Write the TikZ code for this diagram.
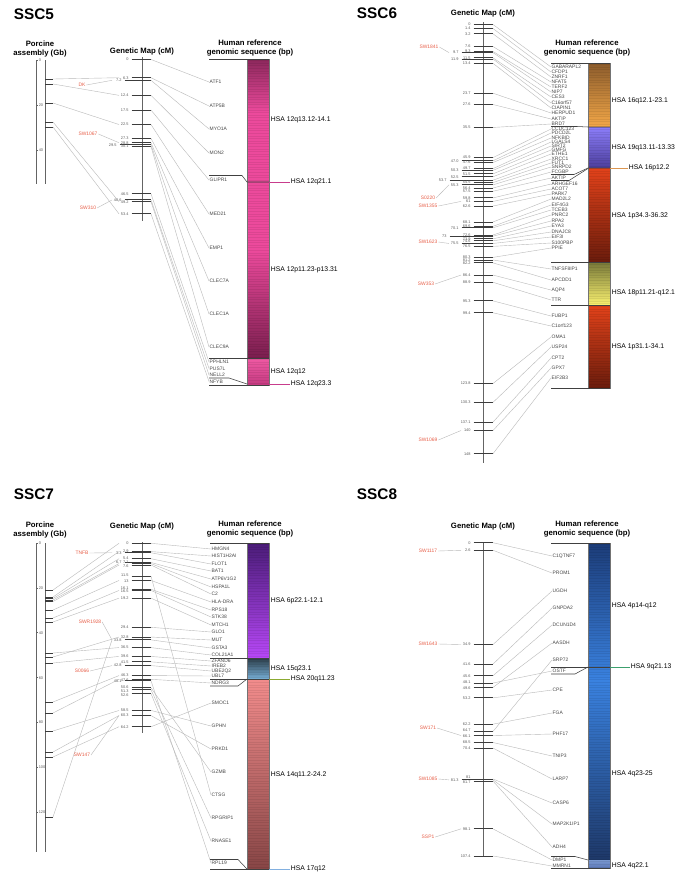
\documentclass[tikz,border=0pt]{standalone}
\usepackage{fontspec}
\setmainfont{Liberation Sans}
\definecolor{textgray}{RGB}{70,70,70}
\definecolor{labgray}{RGB}{90,90,90}
\definecolor{linkgray}{RGB}{185,185,185}
\definecolor{tickgray}{RGB}{60,60,60}
\definecolor{axisgray}{RGB}{100,100,100}
\definecolor{mkred}{RGB}{232,96,74}
\definecolor{c5a}{RGB}{140,40,92}
\definecolor{c5b}{RGB}{236,74,156}
\definecolor{c5c}{RGB}{122,30,78}
\definecolor{c5d}{RGB}{240,90,164}
\definecolor{c5e}{RGB}{196,58,128}
\definecolor{c5line}{RGB}{200,60,140}
\definecolor{c6a}{RGB}{140,92,44}
\definecolor{c6b}{RGB}{244,168,72}
\definecolor{c6c}{RGB}{140,126,250}
\definecolor{c6d}{RGB}{76,62,156}
\definecolor{c6e}{RGB}{226,66,26}
\definecolor{c6f}{RGB}{106,28,12}
\definecolor{c6g}{RGB}{120,120,56}
\definecolor{c6h}{RGB}{250,242,112}
\definecolor{c6line}{RGB}{220,150,80}
\definecolor{c7a}{RGB}{74,28,120}
\definecolor{c7b}{RGB}{184,72,248}
\definecolor{c7c}{RGB}{44,62,74}
\definecolor{c7d}{RGB}{120,176,216}
\definecolor{c7e}{RGB}{242,140,140}
\definecolor{c7f}{RGB}{136,70,70}
\definecolor{c7lineA}{RGB}{140,170,50}
\definecolor{c7lineB}{RGB}{130,176,224}
\definecolor{c8a}{RGB}{28,60,120}
\definecolor{c8b}{RGB}{58,130,224}
\definecolor{c8c}{RGB}{30,56,104}
\definecolor{c8d}{RGB}{122,152,208}
\definecolor{c8e}{RGB}{92,120,184}
\definecolor{c8line}{RGB}{60,160,110}
\tikzset{
 ttl/.style={font=\fontsize{11.5}{13}\selectfont\bfseries, inner sep=0pt},
 hdr/.style={font=\fontsize{5.8}{6.75}\selectfont\bfseries, align=center, inner sep=0pt},
 gene/.style={font=\fontsize{3.7}{4}\selectfont, text=textgray, anchor=west, inner sep=0.3pt},
 tlab/.style={font=\fontsize{2.9}{3}\selectfont, text=labgray, anchor=east, inner sep=0.2pt},
 alab/.style={font=\fontsize{2.9}{3}\selectfont, text=labgray, anchor=west, inner sep=0.2pt},
 mk/.style={font=\fontsize{3.7}{4}\selectfont, text=mkred, inner sep=0.5pt},
 hsa/.style={font=\fontsize{5.1}{6}\selectfont, anchor=west, inner sep=0.5pt},
 link/.style={draw=linkgray, line width=0.3pt},
 tickl/.style={draw=tickgray, line width=0.7pt},
 axisl/.style={draw=axisgray, line width=0.6pt},
 sepl/.style={draw=black!75, line width=0.4pt},
 barl/.style={draw=black!55, line width=0.3pt},
 stripe/.style={draw=black, opacity=0.07, line width=0.35pt},
}
\begin{document}
\begin{tikzpicture}[x=0.75pt,y=-0.75pt]
\useasboundingbox (0,0) rectangle (685,886);
\fill[white] (0,0) rectangle (685,886);

%%%%%%%%%%%%%%%%%%%% SSC5 %%%%%%%%%%%%%%%%%%%%
\node[ttl] (t5) at (34,14) {SSC5};
\node[hdr] (ha5) at (40,48.5) {Porcine\\assembly (Gb)};
\node[hdr] (hg5) at (142,51) {Genetic Map (cM)};
\node[hdr] (hh5) at (250,48.5) {Human reference\\genomic sequence (bp)};
% assembly
\draw[axisl] (36,60) -- (36,184);
\draw[axisl] (45,60) -- (45,184);
\foreach \v in {0,20,40}{
  \pgfmathsetmacro{\yy}{60+2.25*\v}
  \draw[axisl] (36,\yy) -- (38,\yy);
  \node[alab] (a5v\v) at (38.3,\yy) {\v};
}
\foreach \yy/\k in {79/1,84/2,103/3,122/4,127/5}{
  \coordinate (a5-\k-s) at (45,\yy);
  \coordinate (a5-\k) at (53,\yy);
  \draw[tickl] (a5-\k-s) -- (a5-\k);
}
% genetic map
\draw[axisl] (142,57) -- (142,221);
\foreach \cm/\k/\lx in {0/1/129,6.3/2/129,7.2/3/122,12.4/4/129,17.5/5/129,22.5/6/129,27.3/7/129,28.8/8/129,29.5/9/117,30.1/10/129,46.5/11/129,48.6/12/122,49.2/13/129,53.4/14/129}{
  \pgfmathsetmacro{\yy}{59.5+2.89*\cm}
  \pgfmathsetmacro{\wx}{\lx-10}
  \pgfmathsetmacro{\tlx}{\lx+2.5}
  \coordinate (m5-\k-l) at (\tlx,\yy);
  \coordinate (m5-\k-r) at (151,\yy);
  \coordinate (m5-\k-w) at (\wx,\yy);
  \draw[tickl] (m5-\k-l) -- (m5-\k-r);
  \node[tlab] (m5-\k-t) at (\lx,\yy) {\cm};
}
\foreach \a/\b in {1/2,2/4,3/6,4/13,5/14}{\draw[link] (a5-\a) -- (m5-\b-w);}
% markers
\node[mk] (r5-1) at (82,85) {DK};
\node[mk] (r5-2) at (88,134) {SW1067};
\node[mk] (r5-3) at (88,208) {SW310};
\draw[link] (r5-1.east) -- (m5-3-w);
\draw[link] (r5-2.east) -- (m5-8-w);
\draw[link] (r5-3.east) -- (m5-12-w);
% genes
\foreach \n/\yy/\k in {ATF1/82/1,ATP5B/106/2,MYO1A/129/3,MON2/153/4,GLIPR1/180/5,MED21/214/6,EMP1/248/7,CLEC7A/281/8,CLEC1A/314/9,CLEC9A/347/10,PPHLN1/362/11,PUS7L/368.5/12,NELL2/375/13,NFYB/381.5/14}{
  \node[gene] (g5-\k) at (209,\yy) {\n};
}
\foreach \k in {1,...,14}{\draw[link] (m5-\k-r) -- (g5-\k.west);}
% bar
\shade[top color=c5a, bottom color=c5b] (247,59) rectangle (269,112);
\fill[c5b] (247,112) rectangle (269,250);
\shade[top color=c5b, bottom color=c5c] (247,250) rectangle (269,358);
\shade[top color=c5d, bottom color=c5e] (247,358) rectangle (269,385);
\foreach \yy in {60.5,63.1,...,384}{\draw[stripe] (247,\yy) -- (269,\yy);}
\draw[barl] (247,59) rectangle (269,385);
\draw[sepl] (209,59) -- (269,59);
\draw[sepl] (209,175.5) -- (242,175.5) -- (247,182) -- (269,182);
\draw[sepl] (209,358) -- (269,358);
\draw[sepl] (209,378) -- (229,378) -- (247,384);
\draw[sepl] (209,385) -- (269,385);
\node[hsa] (h5a) at (270,120) {HSA 12q13.12-14.1};
\node[hsa] (h5b) at (290,182) {HSA 12q21.1};
\draw[c5line, line width=0.7pt] (269,182) -- (h5b.west);
\node[hsa] (h5c) at (270,270) {HSA 12p11.23-p13.31};
\node[hsa] (h5d) at (270,372) {HSA 12q12};
\node[hsa] (h5e) at (290,384) {HSA 12q23.3};
\draw[c5line, line width=0.7pt] (269,384) -- (h5e.west);

%%%%%%%%%%%%%%%%%%%% SSC6 %%%%%%%%%%%%%%%%%%%%
\node[ttl] (t6) at (377,13) {SSC6};
\node[hdr] (hg6) at (483,13) {Genetic Map (cM)};
\node[hdr] (hh6) at (587,48.5) {Human reference\\genomic sequence (bp)};
\draw[axisl] (483,22) -- (483,463);
\foreach \cm/\k/\lx in {0/1/471,1.4/2/471,3.2/3/471,7.6/4/471,9.3/5/471,9.7/6/459,11.5/7/471,11.9/8/459,13.4/9/471,23.7/10/471,27.6/11/471,35.5/12/471,45.9/13/471,47.0/14/459,47.6/15/471,49.7/16/471,50.3/17/459,51.5/18/471,52.5/19/459,53.7/20/447,54.5/21/471,55.3/22/459,56.4/23/471,57.5/24/471,59.8/25/471,61/26/471,62.6/27/471,68.1/28/471,69.6/29/471,70.1/30/459,72.6/31/471,73/32/447,73.9/33/471,74.6/34/471,75.5/35/459,76.5/36/471,80.3/37/471,81.2/38/471,82.2/39/471,86.4/40/471,88.9/41/471,95.3/42/471,99.4/43/471,123.8/44/471,130.3/45/471,137.1/46/471,140/47/471,148/48/471}{
  \pgfmathsetmacro{\yy}{24.5+2.9*\cm}
  \pgfmathsetmacro{\wx}{\lx-10}
  \pgfmathsetmacro{\tlx}{\lx+2.5}
  \coordinate (m6-\k-l) at (\tlx,\yy);
  \coordinate (m6-\k-r) at (493,\yy);
  \coordinate (m6-\k-w) at (\wx,\yy);
  \draw[tickl] (m6-\k-l) -- (m6-\k-r);
  \node[tlab] (m6-\k-t) at (\lx,\yy) {\cm};
}
\node[mk] (r6-1) at (429,47) {SW1841};
\node[mk] (r6-2) at (428,198) {S0220};
\node[mk] (r6-3) at (428,206) {SW1355};
\node[mk] (r6-4) at (428,242) {SW1623};
\node[mk] (r6-5) at (426,284) {SW353};
\node[mk] (r6-6) at (428,440) {SW1069};
\draw[link] (r6-1.east) -- (m6-6-w);
\draw[link] (r6-2.east) -- (m6-22-w);
\draw[link] (r6-3.east) -- (m6-26-w);
\draw[link] (r6-4.east) -- (m6-35-w);
\draw[link] (r6-5.east) -- (m6-40-w);
\draw[link] (r6-6.east) -- (m6-47-w);
\foreach \n/\yy/\k in {GABARAPL2/67/1,CFDP1/72/2,ZNRF1/77/3,NFAT5/82/4,TERF2/87/5,NIP7/92/6,CES3/97/7,C16orf57/103/8,CIAPIN1/108/9,HERPUD1/113/10,AKTIP/119/11,BRD7/124/12,CCDC123/129/13,PDCD2L/133/14,NFKBID/138/15,LGALS4/142/16,SIRT2/146/17,GMFG/150/18,ETHE1/154/19,XRCC1/159/20,FUT1/163/21,SNRPD2/167/22,FCGBP/172/23,AKTIP/178/24,ARHGEF16/184/25,ACOT7/189/26,PARK7/194/27,MAD2L2/199/28,EIF4G3/205/29,TCEB3/210/30,PNRC2/215/31,RPA2/221/32,EYA3/226/33,DNAJC8/232/34,EIF3I/237/35,S100PBP/243/36,PPIE/248/37,TNFSF8IP1/269/38,APCDD1/280/39,AQP4/290/40,TTR/300/41,FUBP1/316/42,C1orf123/326/43,OMA1/337/44,USP24/347/45,CPT2/358/46,GPX7/368/47,EIF2B3/378/48}{
  \node[gene] (g6-\k) at (551,\yy) {\n};
}
\foreach \k in {1,...,48}{\draw[link] (m6-\k-r) -- (g6-\k.west);}
\shade[top color=c6a, bottom color=c6b] (588,63) rectangle (610,127);
\shade[top color=c6c, bottom color=c6d] (588,127) rectangle (610,168);
\shade[top color=c6e, bottom color=c6f] (588,168) rectangle (610,262);
\shade[top color=c6g, bottom color=c6h] (588,262) rectangle (610,305);
\shade[top color=c6e, bottom color=c6f] (588,305) rectangle (610,388);
\foreach \yy in {64.5,67.1,...,387}{\draw[stripe] (588,\yy) -- (610,\yy);}
\draw[barl] (588,63) rectangle (610,388);
\draw[sepl] (551,63) -- (610,63);
\draw[sepl] (551,126.5) -- (577,126.5) -- (588,127) -- (610,127);
\draw[sepl] (551,174.5) -- (574,174.5) -- (588,168) -- (610,168);
\draw[sepl] (551,180.5) -- (569,180.5) -- (588,168.5);
\draw[sepl] (551,262) -- (610,262);
\draw[sepl] (551,305) -- (610,305);
\draw[sepl] (551,388) -- (610,388);
\node[hsa] (h6a) at (611,101) {HSA 16q12.1-23.1};
\node[hsa] (h6b) at (611,148) {HSA 19q13.11-13.33};
\node[hsa] (h6c) at (628,168) {HSA 16p12.2};
\draw[c6line, line width=0.7pt] (610,168) -- (h6c.west);
\node[hsa] (h6d) at (611,216) {HSA 1p34.3-36.32};
\node[hsa] (h6e) at (611,293) {HSA 18p11.21-q12.1};
\node[hsa] (h6f) at (611,347) {HSA 1p31.1-34.1};

%%%%%%%%%%%%%%%%%%%% SSC7 %%%%%%%%%%%%%%%%%%%%
\node[ttl] (t7) at (34,494) {SSC7};
\node[hdr] (ha7) at (40,529.5) {Porcine\\assembly (Gb)};
\node[hdr] (hg7) at (142,526) {Genetic Map (cM)};
\node[hdr] (hh7) at (250,529.5) {Human reference\\genomic sequence (bp)};
\draw[axisl] (36,543) -- (36,852);
\draw[axisl] (45,543) -- (45,852);
\foreach \v in {0,20,40,60,80,100,120}{
  \pgfmathsetmacro{\yy}{543+2.245*\v}
  \draw[axisl] (36,\yy) -- (38,\yy);
  \node[alab] (a7v\v) at (38.3,\yy) {\v};
}
\foreach \yy/\k in {590/1,597/2,598.5/3,600/4,601.5/5,610/6,618/7,622/8,653/9,657/10,663/11,702/12,713/13,731/14,752/15,757/16,817/17}{
  \coordinate (a7-\k-s) at (45,\yy);
  \coordinate (a7-\k) at (53,\yy);
  \draw[tickl] (a7-\k-s) -- (a7-\k);
}
\draw[axisl] (142,542) -- (142,733);
\foreach \cm/\k/\lx/\dy in {0/1/129/0,2.9/2/129/0,3.3/3/122/0,5.4/4/129/-0.5,6.7/5/122/0,7.1/6/129/-1,7.6/7/129/1.6,11.5/8/129/-0.6,13/9/129/0.6,16.1/10/129/-1,16.5/11/129/1.2,19.2/12/129/0,29.4/13/129/0,32.8/14/129/0,33.8/15/122/0,36.5/16/129/0,39.6/17/129/0,41.5/18/129/0,42.8/19/122/0,46.3/20/129/-0.8,47.6/21/129/0.6,48.1/22/122/0,50.6/23/129/-0.8,51.3/24/129/0.8,52.6/25/129/1.8,58.5/26/129/0,60.3/27/129/0,64.2/28/129/0}{
  \pgfmathsetmacro{\yy}{543.3+2.857*\cm}
  \pgfmathsetmacro{\ly}{\yy+\dy}
  \pgfmathsetmacro{\wx}{\lx-10}
  \pgfmathsetmacro{\tlx}{\lx+2.5}
  \coordinate (m7-\k-l) at (\tlx,\yy);
  \coordinate (m7-\k-r) at (151,\yy);
  \coordinate (m7-\k-w) at (\wx,\yy);
  \draw[tickl] (m7-\k-l) -- (m7-\k-r);
  \node[tlab] (m7-\k-t) at (\lx,\ly) {\cm};
}
\foreach \a/\b in {1/1,2/2,3/4,4/6,5/7,6/9,7/11,8/12,9/16,10/14,11/17,12/20,13/21,14/26,15/27,16/28,17/15}{\draw[link] (a7-\a) -- (m7-\b-w);}
\node[mk] (r7-1) at (82,553) {TNFB};
\node[mk] (r7-2) at (90,622) {SWR1928};
\node[mk] (r7-3) at (82,671) {S0066};
\node[mk] (r7-4) at (82,755) {SW147};
\draw[link] (r7-1.east) -- (m7-3-w);
\draw[link] (r7-2.east) -- (m7-15-w);
\draw[link] (r7-3.east) -- (m7-19-w);
\draw[link] (r7-4.east) -- (m7-27-w);
\foreach \n/\yy/\k in {HMGN4/549/1,HIST1H2AI/556/2,FLOT1/564/3,BAT1/571/4,ATP6V1G2/579/5,HSPA1L/587/6,C2/594/7,HLA-DRA/602/8,RPS18/610/9,STK38/617/10,MTCH1/625/11,GLO1/632/12,MUT/640/13,GSTA3/648/14,COL21A1/655/15,ZFAND6/661/16,IREB2/666/17,UBE2Q2/671/18,UBL7/676/19,NDRG3/683/20,SMOC1/703/21,GPHN/726/22,PRKD1/749/23,GZMB/772/24,CTSG/795/25,RPGRIP1/818/26,RNASE1/841/27,RPL19/863/28}{
  \node[gene] (g7-\k) at (211,\yy) {\n};
}
\foreach \a/\b in {1/1,2/2,3/3,4/4,5/5,6/6,7/7,9/8,10/9,11/10,12/11,13/12,14/13,15/14,16/15,17/16,18/17,19/18,20/19,21/20,28/21,26/22,27/23,23/24,8/25,24/26,25/27,22/28}{\draw[link] (m7-\a-r) -- (g7-\b.west);}
\shade[top color=c7a, bottom color=c7b] (247,543) rectangle (269,658);
\shade[top color=c7c, bottom color=c7d] (247,658) rectangle (269,679);
\shade[top color=c7e, bottom color=c7f] (247,679) rectangle (269,869);
\foreach \yy in {544.5,547.1,...,868}{\draw[stripe] (247,\yy) -- (269,\yy);}
\draw[barl] (247,543) rectangle (269,869);
\draw[sepl] (210,543) -- (269,543);
\draw[sepl] (210,658) -- (269,658);
\draw[sepl] (210,679) -- (269,679);
\draw[sepl] (210,686) -- (238,686) -- (247,679);
\draw[sepl] (210,859.5) -- (238,859.5) -- (247,869);
\draw[sepl] (210,869) -- (269,869);
\node[hsa] (h7a) at (270,601) {HSA 6p22.1-12.1};
\node[hsa] (h7b) at (270,669) {HSA 15q23.1};
\node[hsa] (h7c) at (290,679) {HSA 20q11.23};
\draw[c7lineA, line width=0.7pt] (269,679) -- (h7c.west);
\node[hsa] (h7d) at (270,775) {HSA 14q11.2-24.2};
\node[hsa] (h7e) at (290,869) {HSA 17q12};
\draw[c7lineB, line width=0.7pt] (269,869) -- (h7e.west);

%%%%%%%%%%%%%%%%%%%% SSC8 %%%%%%%%%%%%%%%%%%%%
\node[ttl] (t8) at (377,494) {SSC8};
\node[hdr] (hg8) at (483,526) {Genetic Map (cM)};
\node[hdr] (hh8) at (587,529.5) {Human reference\\genomic sequence (bp)};
\draw[axisl] (483,542) -- (483,857);
\foreach \cm/\k/\lx/\dy in {0/1/471/0,2.6/2/471/0,34.9/3/471/0,41.6/4/471/0,45.6/5/471/0,48.1/6/471/-0.6,49.6/7/471/0.8,53.2/8/471/0,62.2/9/471/0,64.7/10/471/-0.8,66.1/11/471/1,68.5/12/471/-0.4,70.4/13/471/0.6,81/14/471/-1.6,81.3/15/459/0,81.7/16/471/1.6,98.1/17/471/0,107.4/18/471/0}{
  \pgfmathsetmacro{\yy}{542.7+2.917*\cm}
  \pgfmathsetmacro{\ly}{\yy+\dy}
  \pgfmathsetmacro{\wx}{\lx-10}
  \pgfmathsetmacro{\tlx}{\lx+2.5}
  \coordinate (m8-\k-l) at (\tlx,\yy);
  \coordinate (m8-\k-r) at (493,\yy);
  \coordinate (m8-\k-w) at (\wx,\yy);
  \draw[tickl] (m8-\k-l) -- (m8-\k-r);
  \node[tlab] (m8-\k-t) at (\lx,\ly) {\cm};
}
\node[mk] (r8-1) at (428,551) {SW1117};
\node[mk] (r8-2) at (428,644) {SW1643};
\node[mk] (r8-3) at (428,728) {SW171};
\node[mk] (r8-4) at (428,779) {SW1085};
\node[mk] (r8-5) at (428,837) {SSP1};
\draw[link] (r8-1.east) -- (m8-2-w);
\draw[link] (r8-2.east) -- (m8-3-w);
\draw[link] (r8-3.east) -- (m8-11-w);
\draw[link] (r8-4.east) -- (m8-15-w);
\draw[link] (r8-5.east) -- (m8-17-w);
\foreach \n/\yy/\k in {C1QTNF7/556/1,PROM1/573/2,UGDH/591/3,GNPDA2/608/4,DCUN1D4/625/5,AASDH/643/6,SRP72/660/7,OSTF/671/8,CPE/690/9,FGA/713/10,PHF17/734/11,TNIP3/756/12,LARP7/779/13,CASP6/803/14,MAP2K1IP1/824/15,ADH4/847/16,DMP1/860/17,MMRN1/866/18}{
  \node[gene] (g8-\k) at (552,\yy) {\n};
}
\foreach \a/\b in {1/1,2/2,3/3,4/4,5/5,7/6,10/7,6/8,8/9,9/10,11/11,12/12,13/13,14/14,15/15,16/16,17/17,18/18}{\draw[link] (m8-\a-r) -- (g8-\b.west);}
\shade[top color=c8a, bottom color=c8b] (588,543) rectangle (610,680);
\shade[top color=c8b, bottom color=c8c] (588,680) rectangle (610,860);
\shade[top color=c8d, bottom color=c8e] (588,860) rectangle (610,868);
\foreach \yy in {544.5,547.1,...,867}{\draw[stripe] (588,\yy) -- (610,\yy);}
\draw[barl] (588,543) rectangle (610,868);
\draw[sepl] (551,543) -- (610,543);
\draw[sepl] (551,667) -- (610,667);
\draw[sepl] (551,674) -- (575,674) -- (588,667);
\draw[sepl] (551,856.5) -- (575,856.5) -- (588,860);
\draw[sepl] (551,868) -- (610,868);
\node[hsa] (h8a) at (611,606) {HSA 4p14-q12};
\node[hsa] (h8b) at (630,667) {HSA 9q21.13};
\draw[c8line, line width=0.7pt] (610,667) -- (h8b.west);
\node[hsa] (h8c) at (611,774) {HSA 4q23-25};
\node[hsa] (h8d) at (611,866) {HSA 4q22.1};
\end{tikzpicture}
\end{document}
